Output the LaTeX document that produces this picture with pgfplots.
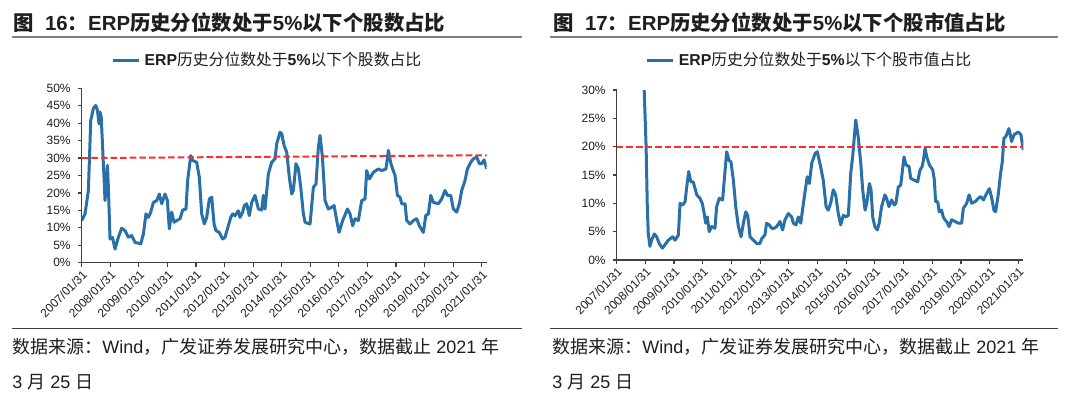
\documentclass[border=0pt]{standalone}
\usepackage{fontspec}
\setmainfont{Liberation Sans}
\newfontfamily\cjk{Noto Sans CJK SC}
\usepackage{pgfplots}
\pgfplotsset{compat=1.18}
\definecolor{lineblue}{RGB}{41,111,168}
\definecolor{dashred}{RGB}{255,45,45}
\definecolor{axgray}{RGB}{64,64,64}
\definecolor{txt}{RGB}{30,30,30}
\pgfplotsset{
  panel/.style={
    scale only axis,
    axis x line*=bottom, axis y line*=left,
    axis line style={axgray, line width=0.65pt, -},
    xmin=0, xmax=170.1, ymin=0,
    xtick={0,12,...,168},
    xticklabels={2007/01/31,2008/01/31,2009/01/31,2010/01/31,2011/01/31,2012/01/31,2013/01/31,2014/01/31,2015/01/31,2016/01/31,2017/01/31,2018/01/31,2019/01/31,2020/01/31,2021/01/31},
    x tick label style={rotate=45, anchor=north east, inner sep=0.8pt},
    tick label style={font=\fontsize{6pt}{6.5pt}\selectfont, text=txt},
    tick align=outside, major tick length=2pt,
    tick style={axgray, line width=0.6pt},
    legend style={draw=none, fill=none, inner sep=0pt, font=\fontsize{7.9pt}{9pt}\selectfont, text=txt,
      /tikz/every even column/.append style={column sep=0pt}},
    legend image code/.code={\draw[#1] (0pt,0pt) -- (13pt,0pt);},
  }
}
\begin{document}
\begin{tikzpicture}
\path[use as bounding box] (0,0) rectangle (540pt,-199pt);
% ---------- left panel ----------
\node[anchor=base west, text=txt, font=\bfseries\fontsize{10.2pt}{12pt}\selectfont, inner sep=0] at (6.5pt,-15pt)
  {{\cjk 图}\ \ 16{\cjk ：}ERP{\cjk 历史分位数处于}5\%{\cjk 以下个股数占比}};
\draw[gray, line width=1pt] (6pt,-18.4pt) -- (261pt,-18.4pt);
\draw[axgray, line width=0.7pt] (6pt,-164.2pt) -- (261pt,-164.2pt);
\node[anchor=base west, text=txt, font=\fontsize{9pt}{11pt}\selectfont, inner sep=0] at (6pt,-176.6pt)
  {{\cjk 数据来源：}Wind{\cjk ，广发证券发展研究中心，数据截止} 2021 {\cjk 年}};
\node[anchor=base west, text=txt, font=\fontsize{9pt}{11pt}\selectfont, inner sep=0] at (6pt,-194pt)
  {3 {\cjk 月} 25 {\cjk 日}};
\begin{axis}[panel,
  at={(40.85pt,-131.35pt)}, anchor=south west,
  width=202.5pt, height=87.2pt,
  ymax=50, ytick={0,5,...,50},
  yticklabels={0\%,5\%,10\%,15\%,20\%,25\%,30\%,35\%,40\%,45\%,50\%},
  legend style={at={(0.461,1.158)}, anchor=center},
]
\addplot[lineblue, line width=1.5pt, line join=round] coordinates {
(0,12.1) (1.4,14) (2.8,20.7) (3.8,40.8) (4.9,44.2) (5.9,45.1) (6.6,43.7) (7.3,39.8) (7.7,43.2) (8.2,41.8)
(9.1,28.4) (9.8,17.8) (10.8,27.9) (11.2,21.6) (11.9,6.8) (12.9,7.3) (14.0,3.9) (15.4,7.3) (16.8,9.9) (18.2,9.2)
(19.6,7.3) (21.0,7.8) (22.4,5.8) (23.8,5.6) (24.8,5.4) (25.9,8.2) (27.0,14) (28.0,13) (29.0,14.5) (30.1,17.3)
(31.5,17.8) (32.6,19.7) (33.6,16.9) (35.0,19.7) (36.0,17.8) (36.8,9.7) (37.8,14.5) (38.8,11.6) (39.9,12.1) (41.3,12.6)
(42.4,15.1) (43.8,15.4) (44.5,23.6) (45.8,30.7) (46.6,29.3) (48.3,28.8) (49.4,24.5) (50.4,14) (51.5,11.1) (52.5,13)
(53.6,18.3) (54.6,18.8) (55.6,11.1) (56.4,9.2) (57.8,8.7) (59.2,6.8) (60.2,7.3) (61.2,9.7) (62.6,13) (63.4,14)
(64.4,13.5) (65.8,14.9) (66.5,13) (67.6,14.5) (68.3,16.4) (69.3,16.9) (70.4,13.5) (71.4,17.3) (72.8,19.3) (74.2,15.4)
(75.6,15.1) (76.3,19.3) (77.0,15.4) (78.4,25.5) (79.8,28.8) (81.2,29.8) (81.9,34.1) (83.3,37.4) (84.0,37.0) (85.0,33.6)
(86.1,31.7) (87.2,24.5) (88.2,19.7) (88.9,20.7) (90.0,28.4) (91.0,26.9) (92.0,21.6) (93.1,14.0) (93.8,11.6) (95.9,11.1)
(97.3,21.6) (98.4,22.6) (99.4,33.1) (100.1,36.5) (101.1,30.3) (102.2,17.8) (103.6,15.4) (105.0,15.9) (106.0,16.4) (107.1,12.1)
(108.1,8.7) (109.6,12.1) (111.6,15.4) (112.7,14.0) (113.8,10.6) (114.8,12.6) (116.2,12.1) (117.6,17.8) (119.0,18.3) (119.7,26.4)
(120.8,24.0) (122.5,25.9) (124.6,26.9) (126.0,26.4) (127.8,26.9) (128.8,32.2) (129.9,28.3) (131.6,25.0) (132.6,19.3) (133.7,18.8)
(134.4,16.9) (135.8,16.9) (136.5,12.1) (137.9,11.1) (139.3,12.1) (140.7,12.6) (141.8,10.6) (143.5,8.7) (144.5,13.5) (145.6,14.0)
(146.6,19.3) (147.7,17.3) (149.8,16.9) (151.2,18.3) (152.6,20.7) (153.6,19.3) (155.0,19.3) (156.1,15.4) (157.5,14.5) (158.6,16.9)
(159.6,20.7) (161.0,23.6) (162.0,26.9) (163.4,28.8) (164.5,29.8) (165.9,30.3) (167.0,28.4) (168.0,28.4) (169.0,29.5) (170.1,26.9)
};
\addlegendentry{\textbf{ERP}{\cjk 历史分位数处于}\textbf{5\%}{\cjk 以下个股数占比}}
\addplot[dashred, line width=1pt, dash pattern=on 3.3pt off 1.5pt, forget plot] coordinates {(0,30) (170.1,30.8)};
\end{axis}
% ---------- right panel ----------
\node[anchor=base west, text=txt, font=\bfseries\fontsize{10.2pt}{12pt}\selectfont, inner sep=0] at (276.5pt,-15pt)
  {{\cjk 图}\ \ 17{\cjk ：}ERP{\cjk 历史分位数处于}5\%{\cjk 以下个股市值占比}};
\draw[gray, line width=1pt] (275pt,-18.4pt) -- (529pt,-18.4pt);
\draw[axgray, line width=0.7pt] (275pt,-164.2pt) -- (529pt,-164.2pt);
\node[anchor=base west, text=txt, font=\fontsize{9pt}{11pt}\selectfont, inner sep=0] at (276pt,-176.6pt)
  {{\cjk 数据来源：}Wind{\cjk ，广发证券发展研究中心，数据截止} 2021 {\cjk 年}};
\node[anchor=base west, text=txt, font=\fontsize{9pt}{11pt}\selectfont, inner sep=0] at (276pt,-194pt)
  {3 {\cjk 月} 25 {\cjk 日}};
\begin{axis}[panel,
  at={(308.35pt,-130pt)}, anchor=south west,
  width=203.3pt, height=85pt,
  ymax=30, ytick={0,5,...,30},
  yticklabels={0\%,5\%,10\%,15\%,20\%,25\%,30\%},
  legend style={at={(0.4766,1.172)}, anchor=center},
]
\addplot[lineblue, line width=1.5pt, line join=round] coordinates {
(11.5,30) (12.3,20) (12.8,9.4) (13.2,4.7) (13.9,2.4) (14.6,3.5) (15.7,4.6) (16.7,4.1) (17.8,2.9) (19.1,2.1)
(20.2,2.7) (21.6,3.5) (23.4,4.1) (24.4,3.5) (25.8,4.4) (26.5,10.0) (27.6,9.7) (28.6,10.3) (29.3,12.9) (30.1,15.6)
(31.0,13.8) (32.0,13.8) (33.5,11.5) (34.8,10.9) (35.8,10.0) (36.6,8.2) (37.2,6.5) (37.9,7.6) (38.7,5.0) (39.7,5.9)
(41.1,5.6) (41.8,9.4) (42.9,10.9) (44.3,10.6) (45.0,14.1) (46.0,19.1) (47.0,17.6) (47.8,17.3) (48.8,14.1) (49.8,9.4)
(50.9,5.9) (52.0,4.1) (53.0,6.5) (54.0,8.5) (54.8,7.9) (55.8,4.1) (56.9,3.6) (58.6,2.9) (59.9,2.9) (60.7,3.8)
(62.0,4.4) (62.7,6.5) (63.8,6.2) (64.8,5.6) (65.8,5.6) (66.9,5.9) (68.3,6.8) (69.4,5.3) (70.4,7.1) (71.8,8.2)
(73.2,7.6) (73.9,6.5) (75.0,6.2) (76.0,7.6) (77.0,6.5) (78.1,10.0) (79.7,14.7) (80.6,13.5) (81.6,17.1) (83.0,18.8)
(83.9,19.1) (85.3,16.5) (86.4,14.1) (87.6,9.4) (88.5,8.8) (89.5,10.0) (90.6,12.4) (91.6,11.5) (92.7,8.2) (93.7,6.2)
(94.8,7.9) (95.9,7.6) (96.9,7.9) (97.9,15.3) (98.7,18.2) (100.0,24.7) (101.1,21.5) (102.1,17.1) (102.9,12.4) (103.9,8.8)
(104.6,10.0) (105.7,13.5) (106.4,12.4) (107.1,7.6) (108.0,5.9) (109.0,5.3) (109.8,6.5) (110.8,9.4) (112.2,11.5) (112.9,10.9)
(113.9,9.4) (115.0,10.6) (116.1,9.7) (116.8,10.0) (117.8,12.9) (118.8,13.2) (120.2,18.2) (121.0,16.8) (122.3,16.5) (123.0,14.4)
(124.4,14.1) (125.9,13.8) (126.9,15.9) (127.8,16.5) (128.3,17.6) (129.0,19.7) (129.7,18.2) (130.8,16.8) (132.2,15.9) (132.9,14.1)
(133.4,10.3) (134.3,10.3) (134.9,8.5) (135.9,8.8) (136.6,7.6) (137.3,7.1) (138.0,6.8) (139.1,5.9) (140.1,7.1) (141.5,6.8)
(142.9,6.5) (144.3,6.5) (145.0,9.1) (146.4,10.0) (147.4,11.5) (148.5,10.0) (149.9,10.3) (151.3,10.9) (152.3,11.2) (153.4,10.6)
(154.8,11.8) (155.9,12.6) (156.9,10.9) (157.8,8.8) (158.5,8.5) (159.6,11.5) (160.6,15.3) (161.3,17.3) (162.0,21.5) (162.8,21.8)
(164.1,23.2) (165.2,20.9) (166.2,22.1) (168.0,22.6) (169.1,22.1) (170.1,19.4)
};
\addlegendentry{\textbf{ERP}{\cjk 历史分位数处于}\textbf{5\%}{\cjk 以下个股市值占比}}
\addplot[dashred, line width=1pt, dash pattern=on 3.3pt off 1.5pt, forget plot] coordinates {(0,20) (170.1,20)};
\end{axis}
\end{tikzpicture}
\end{document}
